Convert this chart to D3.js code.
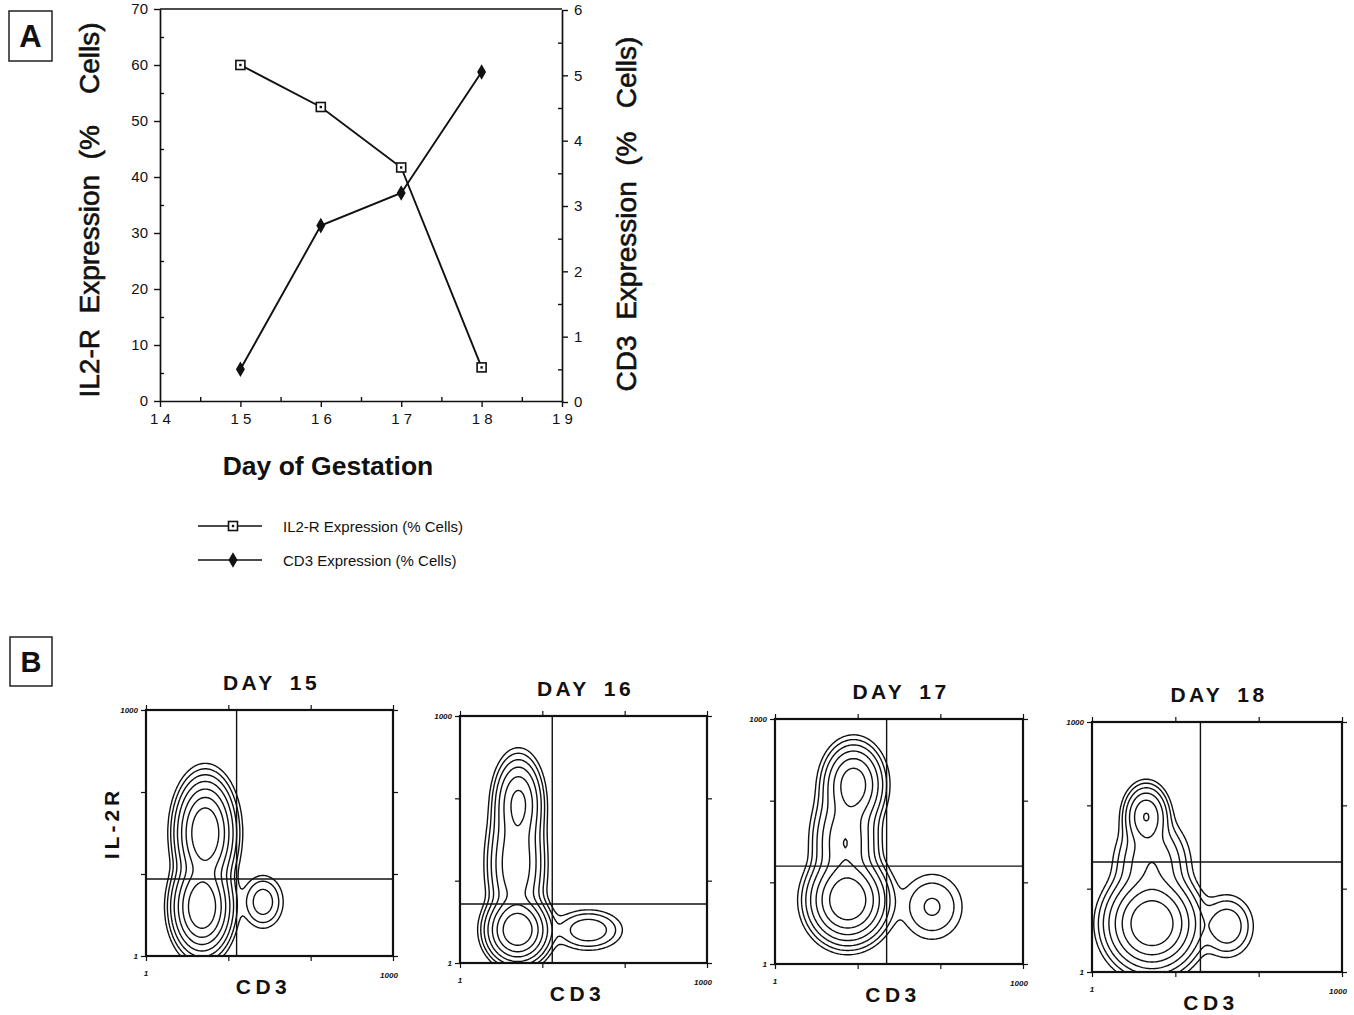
<!DOCTYPE html>
<html>
<head>
<meta charset="utf-8">
<script src="https://cdn.jsdelivr.net/npm/d3@7"></script>
<style>
body { margin: 0; background: #fff; }
text { font-family: "Liberation Sans", Arial, Helvetica, sans-serif; fill: #111; }
</style>
</head>
<body>
<div id="chart"></div>
<script>
// ---------- Panel A data ----------
const days = [15, 16, 17, 18];
const il2rPct = [60, 52.5, 41.7, 6];
const cd3Pct = [0.5, 2.7, 3.2, 5.05];
const dayTicks = [14, 15, 16, 17, 18, 19];
const leftTicks = [0, 10, 20, 30, 40, 50, 60, 70];
const rightTicks = [0, 1, 2, 3, 4, 5, 6];

// ---------- Panel B data ----------
const flowTitles = ["DAY 15", "DAY 16", "DAY 17", "DAY 18"];
// quadrant markers (channel values on the 1..1000 log scale)
const gateCD3 = [12.6, 13.2, 22.4, 20];
const gateIL2R = [8.7, 5.2, 15.8, 20.9];
// cell populations: [CD3 decade, IL-2R decade, spread CD3, spread IL-2R, weight]
const popsDay15 = [[0.72, 1.5, 0.15, 0.28, 1.0], [0.68, 0.6, 0.15, 0.24, 1.0], [1.42, 0.66, 0.13, 0.17, 0.06]];
const popsDay16 = [[0.71, 1.95, 0.13, 0.25, 0.35], [0.68, 1.2, 0.15, 0.35, 0.3], [0.7, 0.4, 0.16, 0.17, 1.0], [1.56, 0.4, 0.21, 0.125, 0.07]];
const popsDay17 = [[0.95, 2.2, 0.16, 0.22, 0.45], [0.85, 1.5, 0.17, 0.3, 0.3], [0.88, 0.78, 0.2, 0.22, 1.0], [1.9, 0.7, 0.21, 0.23, 0.045]];
const popsDay18 = [[0.65, 1.87, 0.12, 0.17, 0.3], [0.72, 1.3, 0.2, 0.25, 0.15], [0.72, 0.58, 0.23, 0.24, 1.0], [1.62, 0.55, 0.16, 0.19, 0.07]];
const flowPops = [popsDay15, popsDay16, popsDay17, popsDay18];
const contourLevels = [0.01, 0.02, 0.04, 0.08, 0.16, 0.3, 0.55];

const svg = d3.select("#chart").append("svg")
    .attr("width", 1354)
    .attr("height", 1015);

//////////////////////////////////////////////////////////////
//////////////////////// Panel A /////////////////////////////
//////////////////////////////////////////////////////////////

const x = d3.scaleLinear().domain([14, 19]).range([160, 562]);
const yL = d3.scaleLinear().domain([0, 70]).range([401, 9]);
const yR = d3.scaleLinear().domain([0, 6]).range([402, 10]);

const gA = svg.append("g");

// panel letter box
gA.append("rect").attr("x", 9).attr("y", 11).attr("width", 43).attr("height", 50)
    .attr("fill", "none").attr("stroke", "#222").attr("stroke-width", 1.5);
gA.append("text").attr("x", 30.5).attr("y", 47).attr("text-anchor", "middle")
    .style("font-size", "31px").style("font-weight", "bold").text("A");

// frame top
gA.append("line").attr("x1", x(14)).attr("x2", x(19)).attr("y1", yL(70)).attr("y2", yL(70))
    .attr("stroke", "#111").attr("stroke-width", 1.5);

const tickFont = g => g.selectAll("text").style("font-size", "15px").style("fill", "#111");
const axisStyle = g => { g.select(".domain").attr("stroke", "#111").attr("stroke-width", 1.7); g.selectAll(".tick line").attr("stroke", "#111").attr("stroke-width", 1.4); };

gA.append("g").attr("transform", "translate(0," + yL(0) + ")")
    .call(d3.axisBottom(x).tickValues(dayTicks).tickSize(6).tickSizeOuter(0).tickPadding(6).tickFormat(d => String(d).split("").join(" ")))
    .call(axisStyle).call(tickFont);
gA.append("g").attr("transform", "translate(0," + yL(0) + ")")
    .call(d3.axisTop(x).tickValues(d3.range(14.5, 19, 1)).tickSize(4).tickFormat(""))
    .call(g => g.select(".domain").remove()).call(axisStyle);

gA.append("g").attr("transform", "translate(" + x(14) + ",0)")
    .call(d3.axisLeft(yL).tickValues(leftTicks).tickSize(6).tickSizeOuter(0).tickPadding(6))
    .call(axisStyle).call(tickFont);
gA.append("g").attr("transform", "translate(" + x(14) + ",0)")
    .call(d3.axisRight(yL).tickValues(d3.range(5, 70, 10)).tickSize(4).tickFormat(""))
    .call(g => g.select(".domain").remove()).call(axisStyle);

gA.append("g").attr("transform", "translate(" + x(19) + ",0)")
    .call(d3.axisRight(yR).tickValues(rightTicks).tickSize(6).tickSizeOuter(0).tickPadding(6).tickFormat(d3.format("d")))
    .call(axisStyle).call(tickFont);
gA.append("g").attr("transform", "translate(" + x(19) + ",0)")
    .call(d3.axisLeft(yR).tickValues(d3.range(0.5, 6, 1)).tickSize(4).tickFormat(""))
    .call(g => g.select(".domain").remove()).call(axisStyle);

// axis titles
gA.append("text").attr("transform", "translate(99,210) rotate(-90)").attr("text-anchor", "middle")
    .style("font-size", "28px").style("white-space", "pre")
    .attr("stroke", "#111").attr("stroke-width", 0.6)
    .text("IL2-R  Expression  (%    Cells)");
gA.append("text").attr("transform", "translate(636,214) rotate(-90)").attr("text-anchor", "middle")
    .style("font-size", "28px").style("white-space", "pre")
    .attr("stroke", "#111").attr("stroke-width", 0.6)
    .text("CD3  Expression  (%   Cells)");
gA.append("text").attr("x", 328).attr("y", 475).attr("text-anchor", "middle")
    .style("font-size", "26.5px").style("font-weight", "bold").text("Day of Gestation");

// lines
const il2rLine = d3.line().x((d, i) => x(days[i])).y(d => yL(d));
const cd3Line = d3.line().x((d, i) => x(days[i])).y(d => yR(d));
gA.append("path").datum(il2rPct).attr("d", il2rLine).attr("fill", "none").attr("stroke", "#111").attr("stroke-width", 1.9);
gA.append("path").datum(cd3Pct).attr("d", cd3Line).attr("fill", "none").attr("stroke", "#111").attr("stroke-width", 1.9);

function squareMarker(sel) {
    sel.append("rect").attr("x", -4.5).attr("y", -4.5).attr("width", 9).attr("height", 9)
        .attr("fill", "#fff").attr("stroke", "#111").attr("stroke-width", 1.6);
    sel.append("rect").attr("x", -1.2).attr("y", -1.2).attr("width", 2.4).attr("height", 2.4).attr("fill", "#111");
}
const diamond = d3.symbol().type(d3.symbolDiamond).size(70);

gA.selectAll(".sq").data(il2rPct).enter().append("g").attr("class", "sq")
    .attr("transform", (d, i) => "translate(" + x(days[i]) + "," + yL(d) + ")")
    .call(squareMarker);
gA.selectAll(".dm").data(cd3Pct).enter().append("path").attr("class", "dm")
    .attr("transform", (d, i) => "translate(" + x(days[i]) + "," + yR(d) + ")")
    .attr("d", diamond).attr("fill", "#111");

// legend
const legend = gA.append("g");
const legendRows = ["IL2-R Expression (% Cells)", "CD3 Expression (% Cells)"];
legendRows.forEach((label, i) => {
    const ly = 526 + i * 34;
    legend.append("line").attr("x1", 198).attr("x2", 262).attr("y1", ly).attr("y2", ly)
        .attr("stroke", "#111").attr("stroke-width", 1.4);
    const m = legend.append("g").attr("transform", "translate(233," + ly + ")");
    if (i === 0) m.call(squareMarker);
    else m.append("path").attr("d", diamond).attr("fill", "#111");
    legend.append("text").attr("x", 283).attr("y", ly + 6).style("font-size", "15px").text(label);
});

//////////////////////////////////////////////////////////////
//////////////////////// Panel B /////////////////////////////
//////////////////////////////////////////////////////////////

const gB = svg.append("g");
gB.append("rect").attr("x", 10).attr("y", 637).attr("width", 42).attr("height", 49)
    .attr("fill", "none").attr("stroke", "#222").attr("stroke-width", 1.5);
gB.append("text").attr("x", 31).attr("y", 672).attr("text-anchor", "middle")
    .style("font-size", "29px").style("font-weight", "bold").text("B");

const panels = [
    { left: 146, top: 710, w: 247, h: 246 },
    { left: 460, top: 716, w: 247, h: 247 },
    { left: 775, top: 719, w: 248, h: 245 },
    { left: 1092, top: 722, w: 250, h: 250 }
];

const n = 150;

function gridDensity(pops) {
    const values = new Float64Array(n * n);
    for (let j = 0; j < n; j++) {
        for (let i = 0; i < n; i++) {
            const dx = (i + 0.5) / n * 3, dy = (j + 0.5) / n * 3;
            let v = 0;
            pops.forEach(p => {
                v += p[4] * Math.exp(-0.5 * (((dx - p[0]) / p[2]) ** 2 + ((dy - p[1]) / p[3]) ** 2));
            });
            values[i + j * n] = v;
        }
    }
    return values;
}

panels.forEach((p, k) => {
    const g = gB.append("g").attr("transform", "translate(" + p.left + "," + p.top + ")");
    const xs = d3.scaleLog().domain([1, 1000]).range([0, p.w]);
    const ys = d3.scaleLog().domain([1, 1000]).range([p.h, 0]);

    // contours
    const values = gridDensity(flowPops[k]);
    const vmax = d3.max(values);
    const contours = d3.contours().size([n, n]).thresholds(contourLevels.map(c => c * vmax))(values);
    const proj = d3.geoTransform({
        point: function(gx, gy) {
            this.stream.point(xs(Math.pow(10, gx / n * 3)), ys(Math.pow(10, gy / n * 3)));
        }
    });
    g.selectAll(".contour").data(contours).enter().append("path").attr("class", "contour")
        .attr("d", d3.geoPath(proj)).attr("fill", "none").attr("stroke", "#111")
        .attr("stroke-width", 1.4).attr("stroke-linejoin", "round");

    // quadrant lines
    g.append("line").attr("x1", xs(gateCD3[k])).attr("x2", xs(gateCD3[k])).attr("y1", 0).attr("y2", p.h)
        .attr("stroke", "#111").attr("stroke-width", 1.4);
    g.append("line").attr("x1", 0).attr("x2", p.w).attr("y1", ys(gateIL2R[k])).attr("y2", ys(gateIL2R[k]))
        .attr("stroke", "#111").attr("stroke-width", 1.4);

    // frame
    g.append("rect").attr("width", p.w).attr("height", p.h).attr("fill", "none")
        .attr("stroke", "#111").attr("stroke-width", 2.2);

    // decade ticks on all four sides
    const decades = [1, 10, 100, 1000];
    const tickStyle = a => { a.select(".domain").remove(); a.selectAll(".tick line").attr("stroke", "#111").attr("stroke-width", 1.2); };
    g.append("g").attr("transform", "translate(0," + p.h + ")").call(d3.axisBottom(xs).tickValues(decades).tickSize(5).tickFormat("")).call(tickStyle);
    g.append("g").call(d3.axisTop(xs).tickValues(decades).tickSize(5).tickFormat("")).call(tickStyle);
    g.append("g").call(d3.axisLeft(ys).tickValues(decades).tickSize(5).tickFormat("")).call(tickStyle);
    g.append("g").attr("transform", "translate(" + p.w + ",0)").call(d3.axisRight(ys).tickValues(decades).tickSize(5).tickFormat("")).call(tickStyle);

    // scale labels
    const small = sel => sel.style("font-size", "8px").style("font-style", "italic").style("font-weight", "bold");
    g.append("text").attr("x", -8).attr("y", ys(1000) + 3).attr("text-anchor", "end").call(small).text("1000");
    g.append("text").attr("x", -8).attr("y", ys(1) + 3).attr("text-anchor", "end").call(small).text("1");
    g.append("text").attr("x", xs(1)).attr("y", p.h + 20).attr("text-anchor", "middle").call(small).text("1");
    g.append("text").attr("x", xs(1000) - 4).attr("y", p.h + 22).attr("text-anchor", "middle").call(small).text("1000");

    // titles
    g.append("text").attr("x", p.w / 2 + 2).attr("y", -20).attr("text-anchor", "middle")
        .style("font-size", "21px").style("font-weight", "bold").style("letter-spacing", "3.5px")
        .style("word-spacing", "5px").text(flowTitles[k]);
    g.append("text").attr("x", p.w / 2 - 6).attr("y", p.h + 38).attr("text-anchor", "middle")
        .style("font-size", "21px").style("font-weight", "bold").style("letter-spacing", "4.5px").text("CD3");
    if (k === 0) {
        g.append("text").attr("transform", "translate(-27," + (p.h / 2 - 10) + ") rotate(-90)")
            .attr("text-anchor", "middle").style("font-size", "21px").style("font-weight", "bold")
            .style("letter-spacing", "4px").text("IL-2R");
    }
});
</script>
</body>
</html>
